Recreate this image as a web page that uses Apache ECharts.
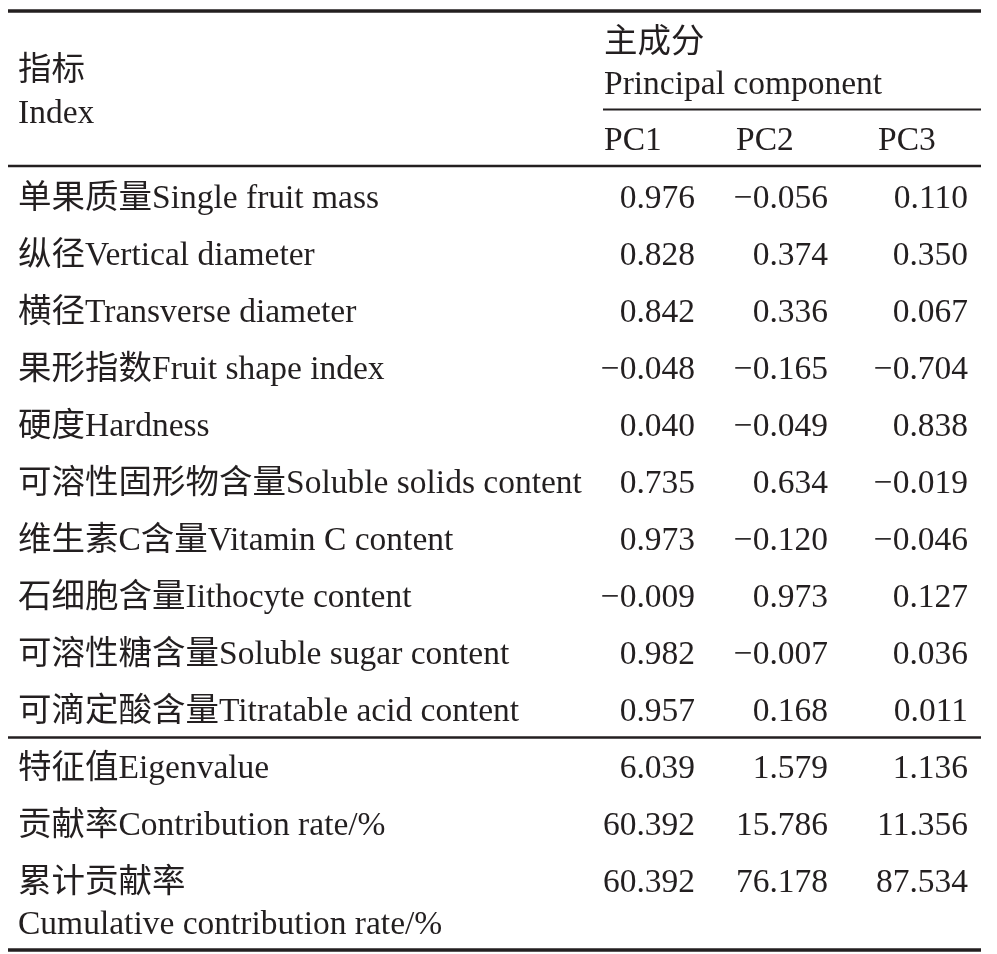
<!DOCTYPE html>
<html lang="zh" style="height: 100%">
<head>
    <meta charset="UTF-8">
    <title>主成分分析</title>
    <script type="text/javascript" src="https://cdn.jsdelivr.net/npm/echarts@6/dist/echarts.min.js"></script>
</head>
<body style="height: 100%;margin: 0;background:#fff">

<div id="contar" style="width: 997px;height: 954px"></div>

<script type="text/javascript">
    // 表格数据
    var indexNames = [
        '单果质量Single fruit mass',
        '纵径Vertical diameter',
        '横径Transverse diameter',
        '果形指数Fruit shape index',
        '硬度Hardness',
        '可溶性固形物含量Soluble solids content',
        '维生素C含量Vitamin C content',
        '石细胞含量Iithocyte content',
        '可溶性糖含量Soluble sugar content',
        '可滴定酸含量Titratable acid content'
    ];
    var pc1 = [0.976, 0.828, 0.842, -0.048, 0.040, 0.735, 0.973, -0.009, 0.982, 0.957];
    var pc2 = [-0.056, 0.374, 0.336, -0.165, -0.049, 0.634, -0.120, 0.973, -0.007, 0.168];
    var pc3 = [0.110, 0.350, 0.067, -0.704, 0.838, -0.019, -0.046, 0.127, 0.036, 0.011];

    var statNames = ['特征值Eigenvalue', '贡献率Contribution rate/%', '累计贡献率'];
    var eigenvalue = [6.039, 1.579, 1.136];
    var contribution = [60.392, 15.786, 11.356];
    var cumulative = [60.392, 76.178, 87.534];

    var pcNames = ['PC1', 'PC2', 'PC3'];

    var font = '33.5px "Liberation Serif", "Times New Roman", "Noto Sans CJK SC", serif';
    var colRight = [695, 828, 968];
    var colLeft = [604, 736, 878];
    var rowTop = 196, rowStep = 57;
    var yOff = 3;

    function fmt(v) {
        return v.toFixed(3).replace('-', '\u2212');
    }

    function txt(s, x, y, align) {
        return {
            type: 'text',
            x: x, y: y + yOff,
            style: {
                text: s,
                font: font,
                fill: '#231f20',
                align: align || 'left',
                verticalAlign: 'middle'
            }
        };
    }

    function line(x1, x2, y, w) {
        return {
            type: 'line',
            shape: {x1: x1, y1: y, x2: x2, y2: y},
            style: {stroke: '#231f20', lineWidth: w}
        };
    }

    var els = [];
    // 表头
    els.push(txt('指标', 18, 68));
    els.push(txt('Index', 18, 111));
    els.push(txt('主成分', 604, 40));
    els.push(txt('Principal component', 604, 82));
    pcNames.forEach(function (n, j) {
        els.push(txt(n, colLeft[j], 138));
    });

    // 指标行
    indexNames.forEach(function (n, i) {
        var y = rowTop + rowStep * i;
        els.push(txt(n, 18, y));
        [pc1, pc2, pc3].forEach(function (arr, j) {
            els.push(txt(fmt(arr[i]), colRight[j], y, 'right'));
        });
    });

    // 特征值等
    var statRows = [eigenvalue, contribution, cumulative];
    statNames.forEach(function (n, i) {
        var y = rowTop + rowStep * (indexNames.length + i);
        els.push(txt(n, 18, y));
        statRows[i].forEach(function (v, j) {
            els.push(txt(fmt(v), colRight[j], y, 'right'));
        });
    });
    els.push(txt('Cumulative contribution rate/%', 18, 922));

    // 表格线
    els.push(line(8, 981, 11, 3.4));
    els.push(line(603, 981, 109.5, 2));
    els.push(line(8, 981, 166, 2.4));
    els.push(line(8, 981, 737.5, 2.4));
    els.push(line(8, 981, 950, 3.4));

    var chart = echarts.init(document.getElementById('contar'));
    chart.setOption({
        backgroundColor: '#fff',
        graphic: {elements: els}
    });
</script>

</body>
</html>
